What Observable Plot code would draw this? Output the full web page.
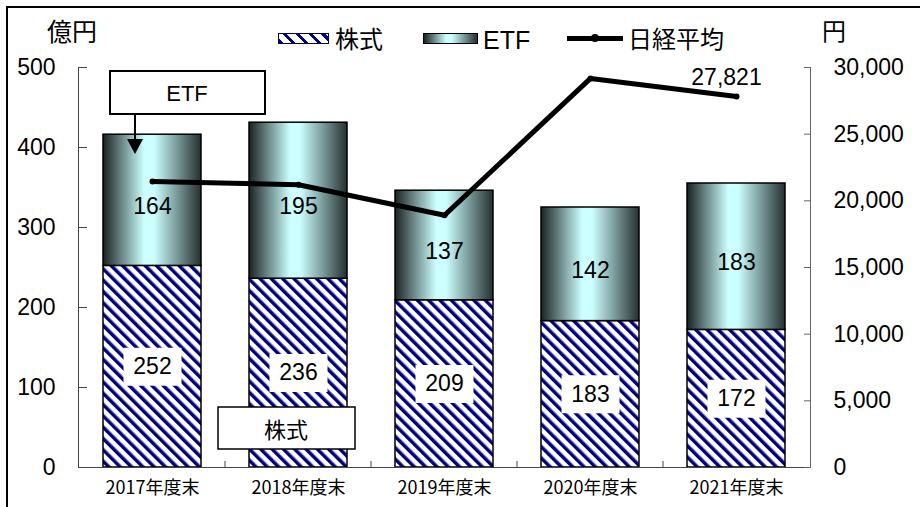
<!DOCTYPE html>
<html><head><meta charset="utf-8">
<script src="https://cdn.jsdelivr.net/npm/d3@7"></script>
<script src="https://cdn.jsdelivr.net/npm/@observablehq/plot@0.6"></script>
<style>
body{margin:0;background:#fff;}
#wrap{position:relative;width:920px;height:507px;overflow:hidden;font-family:"Noto Sans CJK JP",sans-serif;background:#fff;}
#border{position:absolute;left:6px;top:6px;width:1000px;height:1000px;border-top:2px solid #000;border-left:2px solid #000;}
.h{position:absolute;font-size:24px;line-height:24px;color:#000;white-space:nowrap;}
.sw{position:absolute;box-sizing:border-box;}
#chart{position:absolute;left:0;top:55px;}
</style>
</head><body>
<div id="wrap">
  <div id="border"></div>
  <div class="h" style="left:47px;top:18px;font-size:25px;">億円</div>
  <div class="sw" style="left:278px;top:33px;width:51px;height:11px;border:1px solid #000060;background:repeating-linear-gradient(45deg,#000080 0 3px,#fff 3px 9px);"></div>
  <div class="h" style="left:335px;top:26px;">株式</div>
  <div class="sw" style="left:423px;top:33px;width:55px;height:11px;border:1px solid #000;background:linear-gradient(to right,#1a2222 0%,#ccffff 42%,#ccffff 52%,#243030 100%);"></div>
  <div class="h" style="left:483px;top:28px;font-family:'Liberation Sans',sans-serif;font-size:25px;">ETF</div>
  <div class="sw" style="left:567px;top:36px;width:56px;height:5px;background:#000;"></div>
  <div class="sw" style="left:591px;top:34px;width:8px;height:8px;border-radius:4px;background:#000;"></div>
  <div class="h" style="left:628px;top:26px;">日経平均</div>
  <div class="h" style="left:822px;top:18px;">円</div>
  <div id="chart"></div>
</div>
<script>
// ---- data ----
const categories = ["2017年度末", "2018年度末", "2019年度末", "2020年度末", "2021年度末"];
const stockValues = [252, 236, 209, 183, 172];      // 株式 (億円)
const etfValues = [164, 195, 137, 142, 183];        // ETF (億円)
const nikkeiValues = [21454, 21206, 18917, 29179, 27821]; // 日経平均 (円)
const leftTicks = [0, 100, 200, 300, 400, 500];
const rightTicks = [0, 5000, 10000, 15000, 20000, 25000, 30000];
const ratio = 60; // right axis (円) per left axis unit (億円): 30,000 / 500

const rows = categories.map((cat, i) => ({cat, stock: stockValues[i], etf: etfValues[i], nikkei: nikkeiValues[i]}));
const lastRow = rows[rows.length - 1];

const numFont = "'Liberation Sans', Arial, sans-serif";
const cjkFont = "'Noto Sans CJK JP', sans-serif";

function boxSymbol(w, h) {
  return {draw(ctx) { ctx.rect(-w / 2, -h / 2, w, h); }};
}

function defs() {
  const d = d3.create("svg:defs");
  const p = d.append("pattern").attr("id", "hatch").attr("patternUnits", "userSpaceOnUse")
    .attr("width", 8).attr("height", 8).attr("patternTransform", "rotate(-45)");
  p.append("rect").attr("width", 8).attr("height", 8).attr("fill", "#fff");
  p.append("rect").attr("width", 3.5).attr("height", 8).attr("fill", "#000080");
  const g = d.append("linearGradient").attr("id", "etfGrad").attr("x1", 0).attr("x2", 1).attr("y1", 0).attr("y2", 0);
  [[0, "#1a2222"], [0.42, "#ccffff"], [0.52, "#ccffff"], [1, "#243030"]].forEach(([o, c]) =>
    g.append("stop").attr("offset", o).attr("stop-color", c));
  return d.node();
}

function decorations(index, scales, values, dims) {
  const {x, y} = scales;
  const bw = x.bandwidth();
  const step = x.step();
  const cx = c => x(c) + bw / 2;
  const g = d3.create("svg:g");
  // category boundary ticks on the bottom axis
  for (let i = 1; i < categories.length; i++) {
    const bx = x(categories[i]) - (step - bw) / 2;
    g.append("line").attr("x1", bx).attr("x2", bx).attr("y1", y(0)).attr("y2", y(0) - 6)
      .attr("stroke", "#444").attr("stroke-width", 1);
  }
  // ETF callout
  const c0 = cx(categories[0]);
  const top = dims.marginTop;
  g.append("rect").attr("x", c0 - 42).attr("y", top + 4).attr("width", 155).attr("height", 43)
    .attr("fill", "#fff").attr("stroke", "#000").attr("stroke-width", 2);
  g.append("text").attr("x", c0 + 35).attr("y", top + 26).attr("text-anchor", "middle")
    .attr("dominant-baseline", "central").attr("font-family", numFont).attr("font-size", 22).text("ETF");
  g.append("line").attr("x1", c0 - 17).attr("x2", c0 - 17).attr("y1", top + 47).attr("y2", top + 74)
    .attr("stroke", "#000").attr("stroke-width", 2);
  g.append("path").attr("d", `M${c0 - 25},${top + 72}L${c0 - 9},${top + 72}L${c0 - 17},${top + 87}Z`).attr("fill", "#000");
  // 株式 callout
  const c1 = cx(categories[1]);
  const by = y(0);
  g.append("rect").attr("x", c1 - 80).attr("y", by - 60).attr("width", 137).attr("height", 42)
    .attr("fill", "#fff").attr("stroke", "#000").attr("stroke-width", 1.5);
  g.append("text").attr("x", c1 - 12).attr("y", by - 39).attr("text-anchor", "middle")
    .attr("dominant-baseline", "central").attr("font-family", cjkFont).attr("font-size", 22).text("株式");
  return g.node();
}

const chart = Plot.plot({
  width: 920,
  height: 452,
  marginLeft: 78,
  marginRight: 110,
  marginTop: 12,
  marginBottom: 40,
  style: {fontFamily: numFont, fontSize: "23px", color: "#000", background: "transparent", overflow: "visible"},
  x: {domain: categories, paddingInner: 0.33, paddingOuter: 0.165, axis: null},
  y: {domain: [0, 500], axis: null},
  marks: [
    defs,
    Plot.barY(rows, {x: "cat", y1: 0, y2: "stock", fill: "url(#hatch)", stroke: "#000", strokeWidth: 1.5}),
    Plot.barY(rows, {x: "cat", y1: "stock", y2: d => d.stock + d.etf, fill: "url(#etfGrad)", stroke: "#000", strokeWidth: 1.5}),
    Plot.frame({anchor: "left", stroke: "#444"}),
    Plot.frame({anchor: "right", stroke: "#666"}),
    Plot.ruleY([0], {stroke: "#444"}),
    Plot.axisY({anchor: "left", ticks: leftTicks, tickSize: -9, tickPadding: 32, stroke: "#444", label: null}),
    Plot.axisY({anchor: "right", ticks: rightTicks.map(v => v / ratio), tickFormat: d => d3.format(",")(Math.round(d * ratio)),
      tickSize: -7, tickPadding: 30, stroke: "#666", label: null}),
    Plot.axisX({tickSize: 0, tickPadding: 14, fontSize: 18, fontFamily: cjkFont, label: null}),
    Plot.dot(rows, {x: "cat", y: d => d.stock / 2, symbol: boxSymbol(58, 38), r: 1, fill: "#fff", stroke: "none"}),
    Plot.text(rows, {x: "cat", y: d => d.stock / 2, text: d => String(d.stock), fontSize: 23}),
    Plot.text(rows, {x: "cat", y: d => d.stock + d.etf / 2, text: d => String(d.etf), fontSize: 23, dy: 6}),
    Plot.line(rows, {x: "cat", y: d => d.nikkei / ratio, stroke: "#000", strokeWidth: 5}),
    Plot.dot(rows, {x: "cat", y: d => d.nikkei / ratio, r: 3, fill: "#000"}),
    Plot.text([lastRow], {x: "cat", y: d => d.nikkei / ratio, text: d => d3.format(",")(d.nikkei), dy: -19, dx: -10, fontSize: 23}),
    decorations
  ]
});
document.getElementById("chart").appendChild(chart);
</script>
</body></html>
